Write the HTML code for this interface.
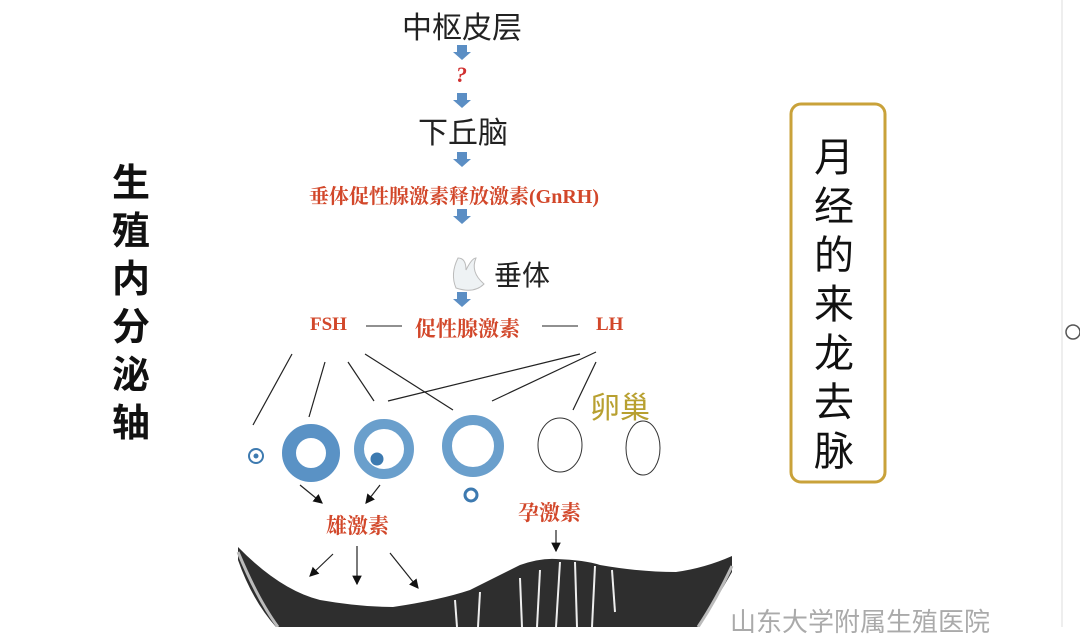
<!DOCTYPE html>
<html><head><meta charset="utf-8"><style>
body{margin:0;width:1080px;height:627px;overflow:hidden;background:#fff;font-family:"Liberation Sans","Noto Sans CJK SC",sans-serif;position:relative}
.t{position:absolute;white-space:nowrap}
.red{color:#d2472a;font-family:"Liberation Serif","Noto Serif CJK SC",serif;font-weight:bold}
</style></head><body>
<svg width="1080" height="627" style="position:absolute;left:0;top:0">
<defs><marker id="a" markerWidth="8" markerHeight="8" refX="7" refY="4" orient="auto"><path d="M0,0L8,4L0,8z" fill="#111"/></marker></defs>
<line x1="1062" y1="0" x2="1062" y2="627" stroke="#ddd"/>
<circle cx="1073" cy="332" r="7" fill="#fff" stroke="#555" stroke-width="1.5"/>
<rect x="791" y="104" width="94" height="378" rx="10" fill="#fff" stroke="#c9a23a" stroke-width="3"/>
<g fill="#5b8ec4">
<path d="M457,45h10v7h4l-9,8l-9,-8h4z"/><path d="M457,93h10v7h4l-9,8l-9,-8h4z"/>
<path d="M457,152h10v7h4l-9,8l-9,-8h4z"/><path d="M457,209h10v7h4l-9,8l-9,-8h4z"/>
<path d="M457,292h10v7h4l-9,8l-9,-8h4z"/></g>
<path d="M458,258q8,0,8,12q6,-12,10,-12q-6,14,8,26q-10,10,-28,4q-6,-14,2,-30z" fill="#eef2f4" stroke="#bbb"/>
<line x1="366" y1="326" x2="402" y2="326" stroke="#222"/><line x1="542" y1="326" x2="578" y2="326" stroke="#222"/>
<g stroke="#222" stroke-width="1.2">
<line x1="292" y1="354" x2="253" y2="425"/><line x1="325" y1="362" x2="309" y2="417"/><line x1="348" y1="362" x2="374" y2="401"/>
<line x1="365" y1="354" x2="453" y2="410"/><line x1="580" y1="354" x2="388" y2="401"/><line x1="596" y1="352" x2="492" y2="401"/><line x1="596" y1="362" x2="573" y2="410"/>
<line x1="300" y1="485" x2="322" y2="503" marker-end="url(#a)"/><line x1="380" y1="485" x2="366" y2="503" marker-end="url(#a)"/>
<line x1="556" y1="530" x2="556" y2="551" marker-end="url(#a)"/>
<line x1="333" y1="554" x2="310" y2="576" marker-end="url(#a)"/><line x1="357" y1="546" x2="357" y2="584" marker-end="url(#a)"/><line x1="390" y1="553" x2="418" y2="588" marker-end="url(#a)"/></g>
<g stroke="#3d7ab0" fill="none">
<circle cx="256" cy="456" r="7" stroke-width="2"/><circle cx="256" cy="456" r="2" fill="#3d7ab0"/>
<circle cx="311" cy="453" r="22" stroke="#5a92c5" stroke-width="14"/>
<circle cx="384" cy="449" r="25" stroke="#6a9fcc" stroke-width="10"/><circle cx="377" cy="459" r="6" fill="#3d7ab0"/>
<circle cx="473" cy="446" r="26" stroke="#6a9fcc" stroke-width="10"/>
<circle cx="471" cy="495" r="6" stroke-width="3"/>
<ellipse cx="560" cy="445" rx="22" ry="27" stroke="#333" stroke-width="1"/><ellipse cx="643" cy="448" rx="17" ry="27" stroke="#333" stroke-width="1"/>
</g>
<path d="M238,547 Q280,590 320,600 Q360,607 393,607 Q440,600 470,590 Q500,575 520,565 Q540,558 556,559 Q585,560 600,565 Q640,572 676,572 Q705,568 732,556 L732,572 Q716,600 698,627 L276,627 Q252,600 238,560z" fill="#2e2e2e"/>
<path d="M238,552 Q258,600 278,627" stroke="#bbb" fill="none" stroke-width="3"/>
<path d="M732,566 Q716,600 698,627" stroke="#bbb" fill="none" stroke-width="3"/>
<g stroke="#eee" stroke-width="2"><line x1="560" y1="562" x2="556" y2="627"/><line x1="575" y1="562" x2="577" y2="627"/><line x1="595" y1="566" x2="592" y2="627"/><line x1="540" y1="570" x2="537" y2="627"/><line x1="520" y1="578" x2="522" y2="627"/><line x1="612" y1="570" x2="615" y2="612"/><line x1="480" y1="592" x2="478" y2="627"/><line x1="455" y1="600" x2="457" y2="627"/></g>
</svg>
<div class="t" style="left:402px;top:3px;font-size:30px;color:#222">中枢皮层</div>
<div class="t red" style="left:456px;top:62px;font-size:22px;font-style:italic;color:#d03030">?</div>
<div class="t" style="left:418px;top:108px;font-size:30px;color:#222">下丘脑</div>
<div class="t red" style="left:309px;top:180px;font-size:20px">垂体促性腺激素释放激素(GnRH)</div>
<div class="t" style="left:494px;top:254px;font-size:28px;color:#222">垂体</div>
<div class="t red" style="left:310px;top:314px;font-size:19px">FSH</div>
<div class="t red" style="left:415px;top:313px;font-size:21px">促性腺激素</div>
<div class="t red" style="left:596px;top:314px;font-size:19px">LH</div>
<div class="t" style="left:590px;top:383px;font-size:30px;color:#b8a030">卵巢</div>
<div class="t red" style="left:326px;top:510px;font-size:21px">雄激素</div>
<div class="t red" style="left:518px;top:497px;font-size:21px">孕激素</div>
<div class="t" style="left:112px;top:160px;font-size:38px;color:#111;width:44px;line-height:48px;white-space:normal;font-weight:bold">生殖内分泌轴</div>
<div class="t" style="left:814px;top:134px;font-size:40px;color:#111;width:48px;line-height:49px;white-space:normal">月经的来龙去脉</div>
<div class="t" style="left:730px;top:602px;font-size:26px;color:#aaa">山东大学附属生殖医院</div>
</body></html>
